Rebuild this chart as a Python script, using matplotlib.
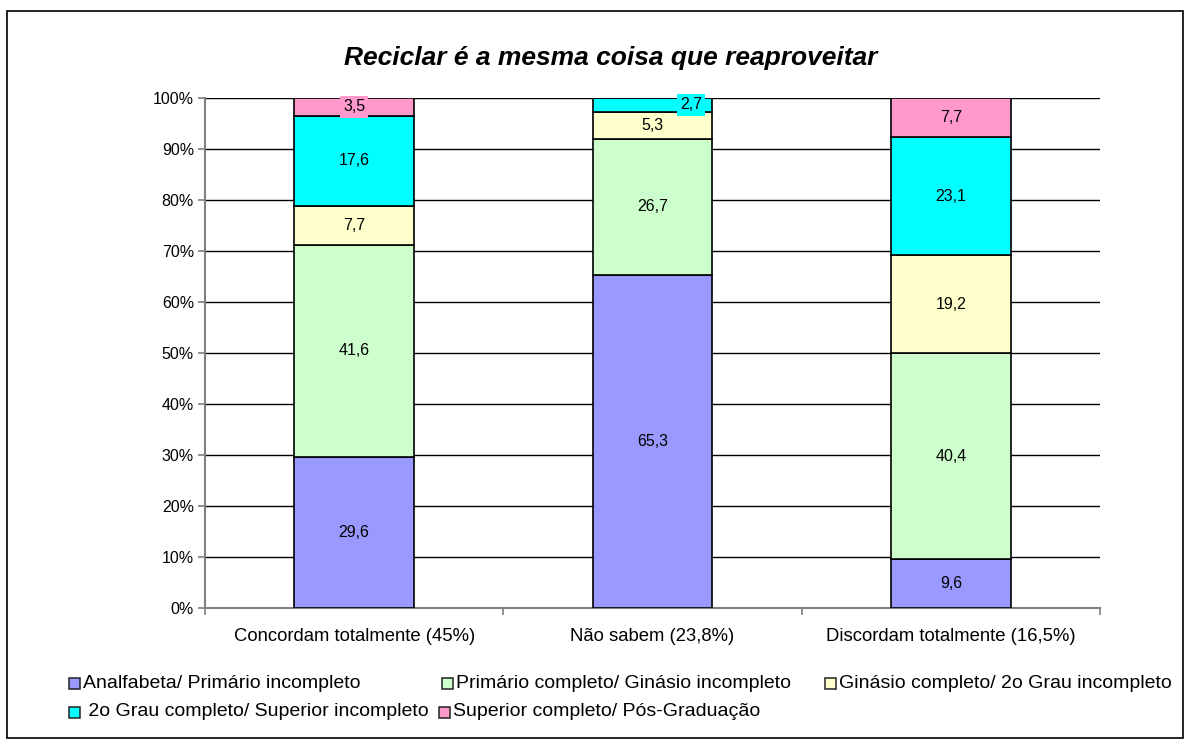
import numpy as np
import matplotlib.pyplot as plt
from matplotlib.patches import Rectangle
from matplotlib.ticker import FuncFormatter

plt.rcParams['font.family'] = ['Liberation Sans', 'DejaVu Sans']

# data
categorias = ['Concordam totalmente (45%)', 'Não sabem (23,8%)', 'Discordam totalmente (16,5%)']
series = ['Analfabeta/ Primário incompleto',
          'Primário completo/ Ginásio incompleto',
          'Ginásio completo/ 2o Grau incompleto',
          '2o Grau completo/ Superior incompleto',
          'Superior completo/ Pós-Graduação']
analfabeta = [29.6, 65.3, 9.6]
primario = [41.6, 26.7, 40.4]
ginasio = [7.7, 5.3, 19.2]
segundo_grau = [17.6, 2.7, 23.1]
superior = [3.5, 0.0, 7.7]
valores = [analfabeta, primario, ginasio, segundo_grau, superior]
cores = ['#9999FF', '#CCFFCC', '#FFFFCC', '#00FFFF', '#FF99CC']

W, H = 1189, 745
fig = plt.figure(figsize=(W / 100, H / 100), dpi=100)
ax = fig.add_axes([205 / W, 1 - 608 / H, 895 / W, 510 / H])

x = np.arange(len(categorias))
base = np.zeros(len(categorias))
for i, (nome, v, c) in enumerate(zip(series, valores, cores)):
    v = np.array(v)
    ax.bar(x, v, width=0.4, bottom=base, color=c, edgecolor='black', linewidth=1.2,
           label=nome, zorder=3)
    for j in range(len(x)):
        if v[j] <= 0:
            continue
        yc = base[j] + v[j] / 2
        txt = ('%.1f' % v[j]).replace('.', ',')
        if v[j] < 4:
            # small segments: label boxed in the segment colour
            dx = 0.0 if j == 0 else 0.13
            ax.text(x[j] + dx, yc, txt, ha='center', va='center', fontsize=11.5, zorder=5,
                    bbox=dict(boxstyle='square,pad=0.2', facecolor=c, edgecolor='none'))
        else:
            ax.text(x[j], yc, txt, ha='center', va='center', fontsize=11.5, zorder=5)
    base += v

ax.set_xlim(-0.5, 2.5)
ax.set_ylim(0, 100)
ax.set_yticks(np.arange(0, 101, 10))
ax.yaxis.set_major_formatter(FuncFormatter(lambda v, p: '%d%%' % v))
ax.grid(axis='y', color='black', linewidth=1, zorder=0)
ax.set_xticks([-0.5, 0.5, 1.5, 2.5])
ax.set_xticklabels([])
ax.tick_params(axis='x', length=5, color='#808080', width=1.2)
ax.tick_params(axis='y', length=5, color='#808080', width=1.2, labelsize=11.5, pad=3)
for s in ['top', 'right']:
    ax.spines[s].set_visible(False)
for s in ['left', 'bottom']:
    ax.spines[s].set_color('#808080')
    ax.spines[s].set_linewidth(1.5)
for j, cat in enumerate(categorias):
    ax.text(x[j], -5.5, cat, ha='center', va='center', fontsize=13.3,
            transform=ax.transData)

fig.text(611 / W, 1 - 58 / H, 'Reciclar é a mesma coisa que reaproveitar',
         ha='center', va='center', fontsize=19, fontweight='bold', fontstyle='italic')

# legend, laid out like the original
leg_pos = [(69, 683), (442, 683), (825, 683), (69, 712), (439, 712)]
for (px, py), nome, c in zip(leg_pos, series, cores):
    fig.patches.append(Rectangle((px / W, 1 - (py + 6) / H), 11 / W, 11 / H,
                                 transform=fig.transFigure, facecolor=c,
                                 edgecolor='#222222', linewidth=1.1))
    lbl = nome if not nome.startswith('2o') else ' ' + nome
    fig.text((px + 14) / W, 1 - py / H, lbl, ha='left', va='center', fontsize=14)

# outer frame
fig.patches.append(Rectangle((7 / W, 1 - 738 / H), 1176 / W, 727 / H,
                             transform=fig.transFigure, fill=False,
                             edgecolor='black', linewidth=1.2))

plt.savefig('out.png', dpi=100)
